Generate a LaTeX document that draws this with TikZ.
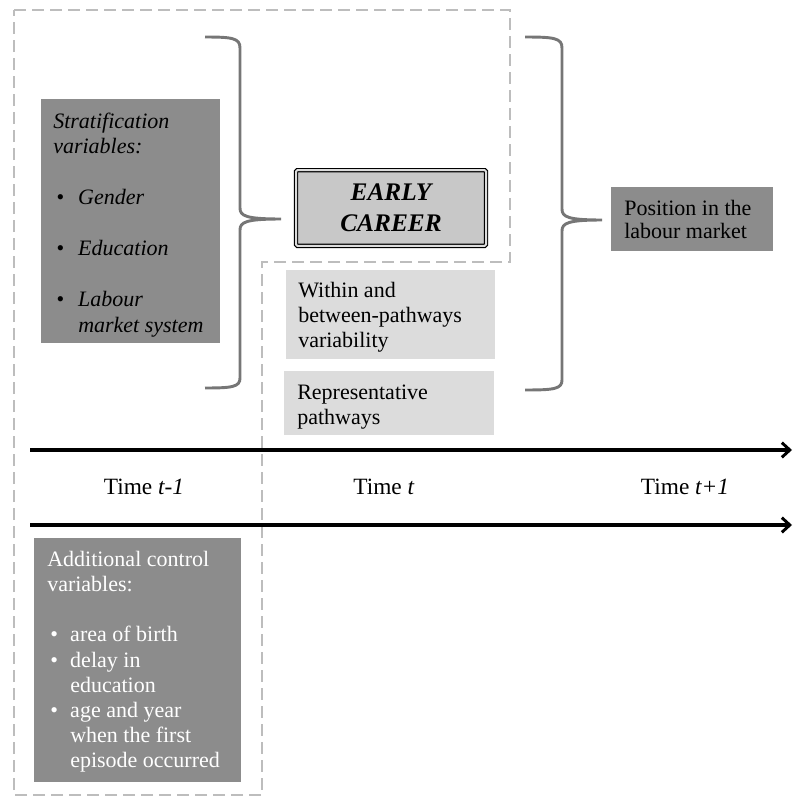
\documentclass[tikz,border=0pt]{standalone}
\usepackage{fontspec}
\setmainfont{Liberation Serif}
\usetikzlibrary{arrows.meta}
\definecolor{boxdark}{HTML}{8C8C8C}
\definecolor{boxlight}{HTML}{DCDCDC}
\definecolor{boxmid}{HTML}{C8C8C8}
\definecolor{dashgray}{HTML}{BDBDBD}
\definecolor{bracegray}{HTML}{767676}
\newcommand{\bul}[1]{\makebox[#1][l]{\hspace{2.25pt}\textbullet}}
\newcommand{\firstline}{\rule{0pt}{12pt}}

\begin{document}
\begin{tikzpicture}[x=0.75pt,y=-0.75pt,
    darkbox/.style={rectangle,fill=boxdark,inner sep=0pt,anchor=north west},
    lightbox/.style={rectangle,fill=boxlight,inner sep=0pt,anchor=north west},
    txt/.style={inner sep=0pt,align=left,anchor=north west,font=\fontsize{16.5pt}{18.9pt}\selectfont},
    timelab/.style={inner sep=0pt,anchor=base,font=\fontsize{17.5pt}{20pt}\selectfont},
    curly/.style={draw=bracegray,line width=2.2pt},
    timeline/.style={line width=2.4pt,-{Straight Barb[length=6pt,width=11pt,line width=2.2pt]}},
    zone/.style={draw=dashgray,line width=1.5pt,dash pattern=on 9pt off 4.5pt}]
  \useasboundingbox (0,0) rectangle (794,796);

  % dashed frame round t-1 and the early career
  \draw[zone] (14,10) -- (510,10) -- (510,262) -- (262,262) -- (262,795) -- (14,795) -- cycle;

  % stratification variables
  \node[darkbox,minimum width=134.25pt,minimum height=183pt] (strat) at (41,99) {};
  \node[txt,font=\fontsize{16.5pt}{19.1pt}\selectfont\itshape] (strattext) at (53,112)
    {\firstline Stratification\\ variables:\\[19.1pt]
     \bul{18.75pt}Gender\\[19.1pt]
     \bul{18.75pt}Education\\[19.1pt]
     \bul{18.75pt}Labour\\ \hspace*{18.75pt}market system};

  % early career
  \node[draw=black,line width=0.9pt,double=boxlight,double distance=1.5pt,fill=boxmid,
        rounded corners=1pt,minimum width=142.5pt,minimum height=56.7pt,align=center,
        font=\fontsize{19pt}{23.25pt}\selectfont\bfseries\itshape] (early) at (391,208)
    {EARLY\\ CAREER};

  \node[lightbox,minimum width=156.75pt,minimum height=66.75pt] (within) at (286,270) {};
  \node[txt] (withintext) at (298,281) {\firstline Within and\\ between-pathways\\ variability};
  \node[lightbox,minimum width=157.5pt,minimum height=48pt] (repr) at (284,371) {};
  \node[txt] (reprtext) at (297,383) {\firstline Representative\\ pathways};

  % outcome
  \node[darkbox,minimum width=121.5pt,minimum height=48pt] (pos) at (611,187) {};
  \node[txt,font=\fontsize{16.5pt}{17.25pt}\selectfont] (postext) at (624,199)
    {\firstline Position in the\\ labour market};

  % braces
  \draw[curly] (205,37) .. controls (232,37) and (240,38) .. (240,48) -- (240,208)
    .. controls (240,216) and (246,219) .. (281,219)
    .. controls (246,219) and (240,222) .. (240,230) -- (240,378)
    .. controls (240,387) and (232,388) .. (205,388);
  \draw[curly] (525,37) .. controls (554,37) and (562,38) .. (562,48) -- (562,209)
    .. controls (562,217) and (568,220) .. (602,220)
    .. controls (568,220) and (562,223) .. (562,231) -- (562,380)
    .. controls (562,389) and (554,390) .. (525,390);

  % time axis
  \coordinate (topstart) at (30,450);
  \coordinate (topend) at (792,450);
  \coordinate (botstart) at (30,525);
  \coordinate (botend) at (792,525);
  \draw[timeline] (topstart) -- (topend);
  \draw[timeline] (botstart) -- (botend);
  \node[timelab] (tprev) at (144,494) {Time \textit{t-1}};
  \node[timelab] (tnow) at (384,494) {Time \textit{t}};
  \node[timelab] (tnext) at (685,494) {Time \textit{t+1}};

  % control variables
  \node[darkbox,minimum width=155.25pt,minimum height=183pt] (ctrl) at (34,538) {};
  \node[txt,text=white] (ctrltext) at (47,550)
    {\firstline Additional control\\ variables:\\[18.9pt]
     \bul{17.25pt}area of birth\\
     \bul{17.25pt}delay in\\ \hspace*{17.25pt}education\\
     \bul{17.25pt}age and year\\ \hspace*{17.25pt}when the first\\ \hspace*{17.25pt}episode occurred};
\end{tikzpicture}
\end{document}
